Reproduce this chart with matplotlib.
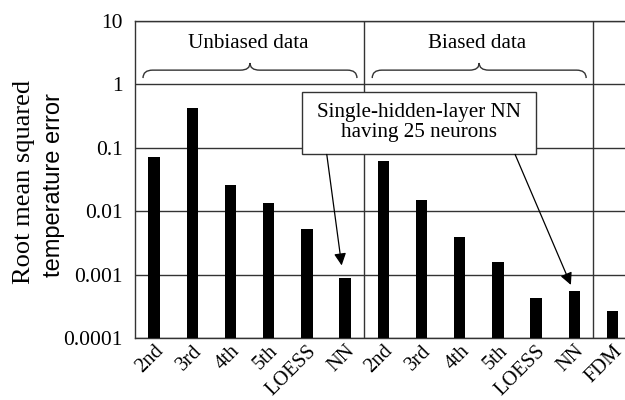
import numpy as np
import matplotlib
matplotlib.use('Agg')
import matplotlib.pyplot as plt
from matplotlib.path import Path
from matplotlib.patches import PathPatch, Rectangle
from matplotlib.transforms import blended_transform_factory, ScaledTranslation

# RMS temperature error per method
methods = ['2nd', '3rd', '4th', '5th', 'LOESS', 'NN',
           '2nd', '3rd', '4th', '5th', 'LOESS', 'NN', 'FDM']
rmse = [0.071, 0.42, 0.026, 0.0137, 0.0052, 0.0009,
        0.061, 0.0151, 0.00385, 0.00156, 0.000434, 0.00055, 0.00027]
groups = ['Unbiased data', 'Biased data']
group_span = [(0, 5), (6, 11)]
nn_idx = [5, 11]
ytick_vals = [0.0001, 0.001, 0.01, 0.1, 1, 10]
ytick_labels = ['0.0001', '0.001', '0.01', '0.1', '1', '10']

serif = 'Liberation Serif'
sans = 'Liberation Sans'
line_col = '#333333'

fig = plt.figure(figsize=(6.25, 4.0), dpi=100)
ax = fig.add_axes([0.216, 0.155, 0.7946, 0.7925])

x = np.arange(len(methods))
ax.bar(x, rmse, width=0.3, color='black', zorder=3)

ax.set_yscale('log')
ax.set_ylim(1e-4, 10)
ax.set_xlim(-0.5, len(methods) - 0.5)
ax.set_yticks(ytick_vals)
ax.set_yticklabels(ytick_labels, fontfamily=serif, fontsize=15.5)
ax.yaxis.set_minor_locator(matplotlib.ticker.NullLocator())
ax.set_xticks(x)
ax.set_xticklabels(methods, fontfamily=serif, fontsize=14.8, rotation=45,
                   ha='right', va='top', rotation_mode='anchor')
# nudge rotated labels a little to the left
shift = ScaledTranslation(-2 / 72, 0, fig.dpi_scale_trans)
for lbl in ax.get_xticklabels():
    lbl.set_transform(lbl.get_transform() + shift)
ax.tick_params(axis='both', length=0)
ax.tick_params(axis='y', pad=9)
ax.tick_params(axis='x', pad=2.5)

ax.grid(axis='y', which='major', color=line_col, lw=1.0, zorder=1)
ax.set_axisbelow(True)
for s in ['left', 'bottom', 'top']:
    ax.spines[s].set_color(line_col)
    ax.spines[s].set_linewidth(1.0)
ax.spines['right'].set_visible(False)

# group separators
for xs in [5.5, 11.5]:
    ax.axvline(xs, color=line_col, lw=1.0, zorder=1)

trans = blended_transform_factory(ax.transData, ax.transAxes)

# curly braces above each group
def brace(x0, x1, y_end=0.82, y_mid=0.845, y_tip=0.8675, r=0.25):
    xm = (x0 + x1) / 2
    verts = [(x0, y_end), (x0, y_mid), (x0 + r, y_mid),
             (xm - r, y_mid), (xm, y_mid), (xm, y_tip),
             (xm, y_mid), (xm + r, y_mid),
             (x1 - r, y_mid), (x1, y_mid), (x1, y_end)]
    codes = [Path.MOVETO, Path.CURVE3, Path.CURVE3,
             Path.LINETO, Path.CURVE3, Path.CURVE3,
             Path.CURVE3, Path.CURVE3,
             Path.LINETO, Path.CURVE3, Path.CURVE3]
    ax.add_patch(PathPatch(Path(verts, codes), fill=False, lw=1.0,
                           edgecolor=line_col, transform=trans, zorder=4))
    return xm

for name, (a, b) in zip(groups, group_span):
    xm = brace(a - 0.29, b + 0.31)
    ax.text(xm - 0.05, 0.93, name, transform=trans, ha='center', va='center',
            fontfamily=serif, fontsize=15.2)

# callout box for the neural network bars
box = Rectangle((3.87, 0.579), 6.12, 0.198, transform=trans, facecolor='white',
                edgecolor=line_col, lw=1.0, zorder=5)
ax.add_patch(box)
ax.text(6.93, 0.68, 'Single-hidden-layer NN\nhaving 25 neurons', transform=trans,
        ha='center', va='center', fontfamily=serif, fontsize=15.2,
        linespacing=1.1, zorder=6)

starts = [(4.52, 0.579), (9.45, 0.579)]
tip_factor = [1.55, 1.25]
for (sx, sy), i, f in zip(starts, nn_idx, tip_factor):
    tip_y = ax.transAxes.inverted().transform(
        ax.transData.transform((i, rmse[i] * f)))[1]
    ax.annotate('', xy=(i - 0.09, tip_y), xycoords=trans,
                xytext=(sx, sy), textcoords=trans,
                arrowprops=dict(arrowstyle='-|>', color='black', lw=0.9,
                                mutation_scale=18, shrinkA=0, shrinkB=0),
                zorder=6)

fig.text(0.039, 0.545, 'Root mean squared', rotation=90, ha='center',
         va='center', fontfamily=serif, fontsize=19)
fig.text(0.086, 0.538, 'temperature error', rotation=90, ha='center',
         va='center', fontfamily=sans, fontsize=17)

fig.savefig('out.png', dpi=100)
